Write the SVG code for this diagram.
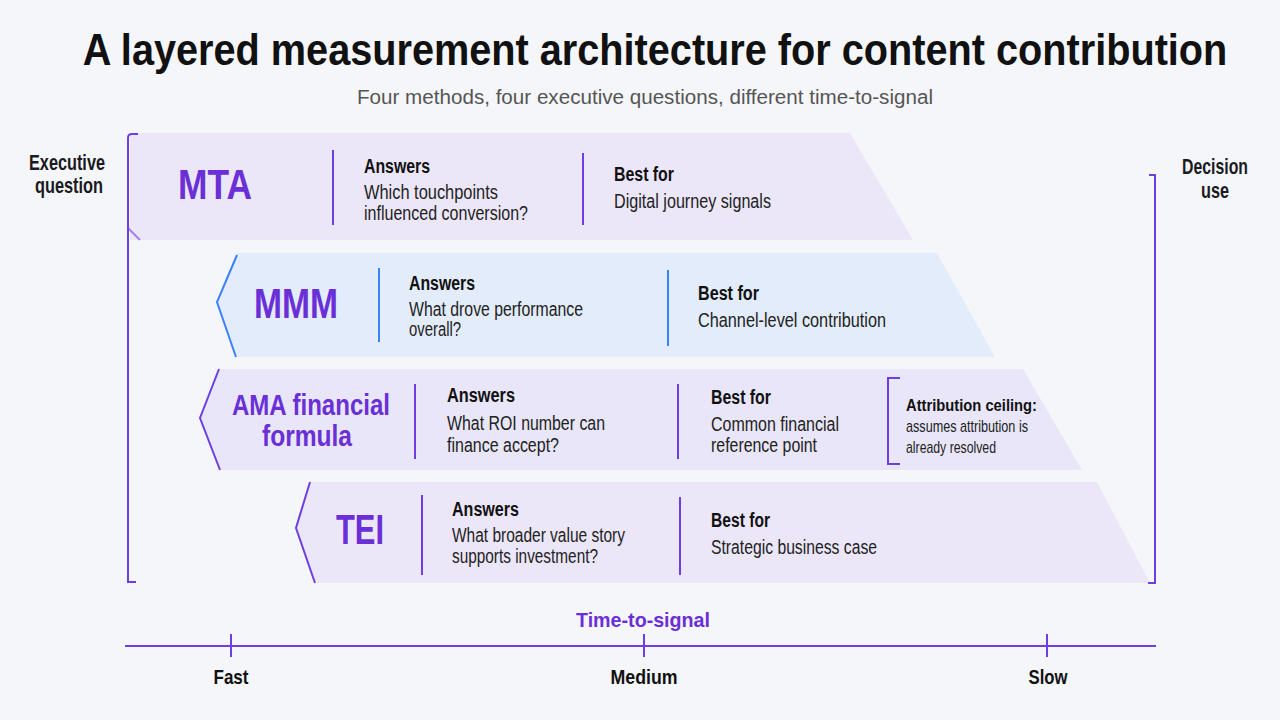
<svg xmlns="http://www.w3.org/2000/svg" width="1280" height="720" viewBox="0 0 1280 720">
<style>
text{font-family:"Liberation Sans",Arial,sans-serif;fill:#1a1a1f}
.title{font-size:44px;font-weight:bold;fill:#111}
.sub{font-size:20px;fill:#555}
.side{font-size:22px;font-weight:bold}
.method{font-weight:bold;fill:#6a2fd6}
.h{font-size:20px;font-weight:bold;fill:#111}
.b{font-size:20px;fill:#222}
.note{font-size:17px;fill:#222}
.noteb{font-size:17px;font-weight:bold;fill:#111}
.ax{font-size:21px;font-weight:bold;fill:#111}
.purple{stroke:#6d3ee0;stroke-width:2;fill:none}
.blue{stroke:#3b82f6;stroke-width:2;fill:none}
</style>
<rect width="1280" height="720" fill="#f5f6fa"/>
<text class="title" transform="translate(655,65) scale(0.902,1)" x="0" y="0" text-anchor="middle">A layered measurement architecture for content contribution</text>
<text class="sub" x="645" y="104" text-anchor="middle" textLength="576" lengthAdjust="spacingAndGlyphs">Four methods, four executive questions, different time-to-signal</text>

<g id="labels">
<text class="side" x="67" y="170" text-anchor="middle" textLength="76" lengthAdjust="spacingAndGlyphs">Executive</text>
<text class="side" x="69" y="193" text-anchor="middle" textLength="68" lengthAdjust="spacingAndGlyphs">question</text>
<text class="side" x="1215" y="174" text-anchor="middle" textLength="66" lengthAdjust="spacingAndGlyphs">Decision</text>
<text class="side" x="1215" y="198" text-anchor="middle" textLength="28" lengthAdjust="spacingAndGlyphs">use</text>
</g>

<g id="band-mta">
<path d="M130,133 L850,133 L913,240 L130,240 Z" fill="#ece6f9"/>
<line x1="333" y1="150" x2="333" y2="225" class="purple"/>
<line x1="583" y1="153" x2="583" y2="225" class="purple"/>
<text class="method" x="215" y="199" text-anchor="middle" font-size="42" textLength="74" lengthAdjust="spacingAndGlyphs">MTA</text>
<text class="h" x="364" y="173" textLength="66" lengthAdjust="spacingAndGlyphs">Answers</text>
<text class="b" x="364" y="199" textLength="134" lengthAdjust="spacingAndGlyphs">Which touchpoints</text>
<text class="b" x="364" y="220" textLength="164" lengthAdjust="spacingAndGlyphs">influenced conversion?</text>
<text class="h" x="614" y="181" textLength="60" lengthAdjust="spacingAndGlyphs">Best for</text>
<text class="b" x="614" y="208" textLength="157" lengthAdjust="spacingAndGlyphs">Digital journey signals</text>
</g>

<g id="band-mmm">
<path d="M237,253 L937,253 L995,357 L237,357 L217,305 Z" fill="#e3ecfa"/>
<path d="M237,255 L217,302 L236,357" class="blue" stroke-width="2.5"/>
<line x1="379" y1="268" x2="379" y2="342" class="blue"/>
<line x1="668" y1="270" x2="668" y2="346" class="blue"/>
<text class="method" x="296" y="318" text-anchor="middle" font-size="42" textLength="84" lengthAdjust="spacingAndGlyphs">MMM</text>
<text class="h" x="409" y="290" textLength="66" lengthAdjust="spacingAndGlyphs">Answers</text>
<text class="b" x="409" y="316" textLength="174" lengthAdjust="spacingAndGlyphs">What drove performance</text>
<text class="b" x="409" y="336" textLength="52" lengthAdjust="spacingAndGlyphs">overall?</text>
<text class="h" x="698" y="300" textLength="61" lengthAdjust="spacingAndGlyphs">Best for</text>
<text class="b" x="698" y="327" textLength="188" lengthAdjust="spacingAndGlyphs">Channel-level contribution</text>
</g>

<g id="band-ama">
<path d="M219,369 L1023,369 L1082,470 L220,470 L200,418 Z" fill="#e8e6f8"/>
<path d="M219,369 L200,418 L220,470" class="purple" stroke-width="2.5"/>
<line x1="415" y1="384" x2="415" y2="459" class="purple"/>
<line x1="678" y1="384" x2="678" y2="459" class="purple"/>
<path d="M900,378 L888,378 L888,464 L900,464" class="purple"/>
<text class="method" x="311" y="415" text-anchor="middle" font-size="30" textLength="158" lengthAdjust="spacingAndGlyphs">AMA financial</text>
<text class="method" x="307" y="446" text-anchor="middle" font-size="30" textLength="90" lengthAdjust="spacingAndGlyphs">formula</text>
<text class="h" x="447" y="402" textLength="68" lengthAdjust="spacingAndGlyphs">Answers</text>
<text class="b" x="447" y="430" textLength="158" lengthAdjust="spacingAndGlyphs">What ROI number can</text>
<text class="b" x="447" y="452" textLength="112" lengthAdjust="spacingAndGlyphs">finance accept?</text>
<text class="h" x="711" y="404" textLength="60" lengthAdjust="spacingAndGlyphs">Best for</text>
<text class="b" x="711" y="431" textLength="128" lengthAdjust="spacingAndGlyphs">Common financial</text>
<text class="b" x="711" y="452" textLength="106" lengthAdjust="spacingAndGlyphs">reference point</text>
<text class="noteb" x="906" y="411" textLength="131" lengthAdjust="spacingAndGlyphs">Attribution ceiling:</text>
<text class="note" x="906" y="432" textLength="122" lengthAdjust="spacingAndGlyphs">assumes attribution is</text>
<text class="note" x="906" y="453" textLength="90" lengthAdjust="spacingAndGlyphs">already resolved</text>
</g>

<g id="band-tei">
<path d="M310,482 L1097,482 L1150,583 L315,583 L296,528 Z" fill="#ece6f9"/>
<path d="M310,482 L296,528 L315,583" class="purple" stroke-width="2.5"/>
<line x1="422" y1="495" x2="422" y2="575" class="purple"/>
<line x1="680" y1="497" x2="680" y2="575" class="purple"/>
<text class="method" x="360" y="544" text-anchor="middle" font-size="42" textLength="48" lengthAdjust="spacingAndGlyphs">TEI</text>
<text class="h" x="452" y="516" textLength="67" lengthAdjust="spacingAndGlyphs">Answers</text>
<text class="b" x="452" y="542" textLength="173" lengthAdjust="spacingAndGlyphs">What broader value story</text>
<text class="b" x="452" y="563" textLength="146" lengthAdjust="spacingAndGlyphs">supports investment?</text>
<text class="h" x="711" y="527" textLength="59" lengthAdjust="spacingAndGlyphs">Best for</text>
<text class="b" x="711" y="554" textLength="166" lengthAdjust="spacingAndGlyphs">Strategic business case</text>
</g>

<g id="connectors">
<path d="M138,134 L132,134 Q128,134 128,138 L128,582 L136,582" class="purple"/>
<path d="M128,228 L140,240" class="purple" stroke-width="1" opacity="0.6"/>
<path d="M1149,175 L1155,175 L1155,583 L1148,583" class="purple"/>
</g>

<g id="axis">
<line x1="125" y1="646" x2="1156" y2="646" class="purple" stroke-width="2.5"/>
<line x1="231" y1="634" x2="231" y2="657" class="purple"/>
<line x1="644" y1="634" x2="644" y2="657" class="purple"/>
<line x1="1047" y1="634" x2="1047" y2="657" class="purple"/>
<text class="ax" x="643" y="627" text-anchor="middle" style="fill:#6a2fd6" textLength="134" lengthAdjust="spacingAndGlyphs">Time-to-signal</text>
<text class="ax" x="231" y="684" text-anchor="middle" textLength="35" lengthAdjust="spacingAndGlyphs">Fast</text>
<text class="ax" x="644" y="684" text-anchor="middle" textLength="67" lengthAdjust="spacingAndGlyphs">Medium</text>
<text class="ax" x="1048" y="684" text-anchor="middle" textLength="39" lengthAdjust="spacingAndGlyphs">Slow</text>
</g>
</svg>
